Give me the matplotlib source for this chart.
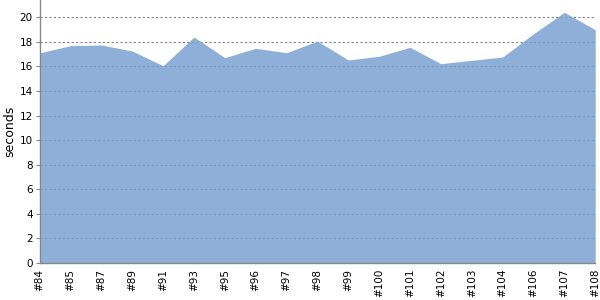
import matplotlib
matplotlib.use("Agg")
import matplotlib.pyplot as plt

builds = ["#84", "#85", "#87", "#89", "#91", "#93", "#95", "#96", "#97", "#98",
          "#99", "#100", "#101", "#102", "#103", "#104", "#106", "#107", "#108"]
seconds = [17.1, 17.68, 17.74, 17.25, 16.05, 18.39, 16.71, 17.47, 17.11, 18.06,
           16.52, 16.82, 17.55, 16.22, 16.49, 16.76, 18.65, 20.4, 18.98]
yticks = list(range(0, 22, 2))

fig = plt.figure(figsize=(6, 3), dpi=100)
ax = fig.add_axes([0.066, 0.1233, 0.926, 0.8767])
x = list(range(len(builds)))
ax.fill_between(x, seconds, 0, color="#7AA2D2", alpha=0.85, linewidth=0, zorder=2)
ax.set_xlim(0, len(builds) - 1)
ax.set_ylim(0, 21.4)
ax.set_yticks(yticks)
ax.set_yticklabels([str(t) for t in yticks], fontsize=7.5)
ax.set_xticks(x)
ax.set_xticklabels(builds, rotation=90, fontsize=7.5, va="top")
ax.tick_params(axis="x", length=0, pad=4)
ax.tick_params(axis="y", length=3, width=0.8, color="#888888", pad=2)
ax.yaxis.grid(True, color="#808080", linestyle=(0, (2, 2)), linewidth=0.8, zorder=1)
ax.set_axisbelow(True)
for s in ("top", "right"):
    ax.spines[s].set_visible(False)
for s in ("left", "bottom"):
    ax.spines[s].set_color("#888888")
    ax.spines[s].set_linewidth(1)
    ax.spines[s].set_zorder(3)
ax.set_ylabel("seconds", fontsize=9)
ax.yaxis.set_label_coords(-0.042, 0.5)
fig.savefig("out.png", dpi=100)
